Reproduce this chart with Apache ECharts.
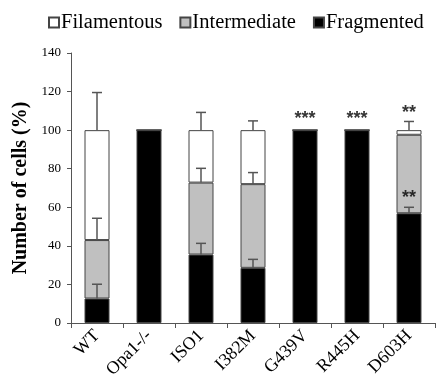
<!DOCTYPE html>
<html>
<head>
<meta charset="utf-8">
<script src="https://cdn.jsdelivr.net/npm/echarts@6/dist/echarts.min.js"></script>
<style>
  html, body { margin: 0; padding: 0; background: #fff; }
  #chart { width: 436px; height: 389px; }
</style>
</head>
<body>
<div id="chart"></div>
<script>
// 数据
var categories = ['WT', 'Opa1-/-', 'ISO1', 'I382M', 'G439V', 'R445H', 'D603H'];
var fragmented = [12.7, 100, 35.5, 28.6, 100, 100, 56.9];
var intermediate = [30.3, 0, 37.3, 43.4, 0, 0, 40.7];
var filamentous = [57, 0, 27.2, 28, 0, 0, 2.4];
// 误差（上方）
var fragErr = [7.4, 0, 5.8, 4.4, 0, 0, 3.1];
var interErr = [11.3, 0, 7.4, 6, 0, 0, 0];
var filaErr = [19.5, 0, 9.2, 4.8, 0, 0, 4.5];
// 显著性标记
var starText = ['', '', '', '', '***', '***', '**'];
var starTop = [0, 0, 0, 0, 99.5, 99.5, 102.8];
var starInnerText = ['', '', '', '', '', '', '**'];
var starInnerY = [0, 0, 0, 0, 0, 0, 58.5];

document.addEventListener('DOMContentLoaded', function () {
  var myChart = echarts.init(document.getElementById('chart'));
  var serif = '"Liberation Serif", "DejaVu Serif", serif';

  // 误差线数据
  var errData = [];
  for (var i = 0; i < categories.length; i++) {
    var a = fragmented[i], b = a + intermediate[i], c = b + filamentous[i];
    if (fragErr[i] > 0) errData.push([i, a, a + fragErr[i]]);
    if (interErr[i] > 0) errData.push([i, b, b + interErr[i]]);
    if (filaErr[i] > 0) errData.push([i, c, c + filaErr[i]]);
  }
  var starData = [];
  for (var j = 0; j < categories.length; j++) {
    if (starText[j]) starData.push({ value: [j, starTop[j]], label: { formatter: starText[j] } });
    if (starInnerText[j]) starData.push({ value: [j, starInnerY[j]], label: { formatter: starInnerText[j] } });
  }

  var barStyle = function (color) {
    return { color: color, borderColor: '#444', borderWidth: 1 };
  };

  var option = {
    animation: false,
    textStyle: { fontFamily: serif },
    legend: {
      data: ['Filamentous', 'Intermediate', 'Fragmented'],
      top: 12,
      left: 48,
      width: 388,
      padding: 0,
      icon: 'rect',
      itemWidth: 10,
      itemHeight: 10,
      itemGap: 17,
      textStyle: { fontFamily: serif, fontSize: 20.5, color: '#000', padding: [0, 0, 0, -3] }
    },
    grid: { left: 71, right: 1, top: 53, bottom: 66 },
    xAxis: {
      type: 'category',
      data: categories,
      axisLine: { lineStyle: { color: '#555' } },
      axisTick: { show: true, length: 5, lineStyle: { color: '#555' } },
      axisLabel: { rotate: 45, fontFamily: serif, fontSize: 18, color: '#000', margin: 10 }
    },
    yAxis: {
      type: 'value',
      min: 0,
      max: 140,
      interval: 20,
      name: 'Number of cells (%)',
      nameLocation: 'middle',
      nameGap: 38,
      nameTextStyle: { fontFamily: serif, fontSize: 20, fontWeight: 'bold', color: '#000' },
      splitLine: { show: false },
      axisLine: { show: true, lineStyle: { color: '#555' } },
      axisTick: { show: true, length: 4, lineStyle: { color: '#555' } },
      axisLabel: { fontFamily: serif, fontSize: 13, color: '#000', margin: 10 }
    },
    series: [
      { name: 'Fragmented', type: 'bar', stack: 'a', barWidth: 25, data: fragmented, itemStyle: barStyle('#000') },
      { name: 'Intermediate', type: 'bar', stack: 'a', data: intermediate, itemStyle: barStyle('#c0c0c0') },
      { name: 'Filamentous', type: 'bar', stack: 'a', data: filamentous, itemStyle: barStyle('#fff') },
      // 误差线
      {
        type: 'custom',
        data: errData,
        z: 5,
        renderItem: function (params, api) {
          var lo = api.coord([api.value(0), api.value(1)]);
          var hi = api.coord([api.value(0), api.value(2)]);
          var w = 5;
          var st = { stroke: '#555', lineWidth: 1.5 };
          return {
            type: 'group',
            children: [
              { type: 'line', shape: { x1: lo[0], y1: lo[1], x2: hi[0], y2: hi[1] }, style: st },
              { type: 'line', shape: { x1: hi[0] - w, y1: hi[1], x2: hi[0] + w, y2: hi[1] }, style: st }
            ]
          };
        }
      },
      // 星号
      {
        type: 'scatter',
        data: starData,
        symbolSize: 0,
        z: 6,
        label: {
          show: true,
          position: 'top',
          distance: 3,
          fontFamily: '"Liberation Sans", sans-serif',
          fontWeight: 'bold',
          fontSize: 18,
          color: '#000'
        }
      }
    ]
  };

  myChart.setOption(option);
  window.addEventListener('resize', function () { myChart.resize(); });
});
</script>
</body>
</html>
